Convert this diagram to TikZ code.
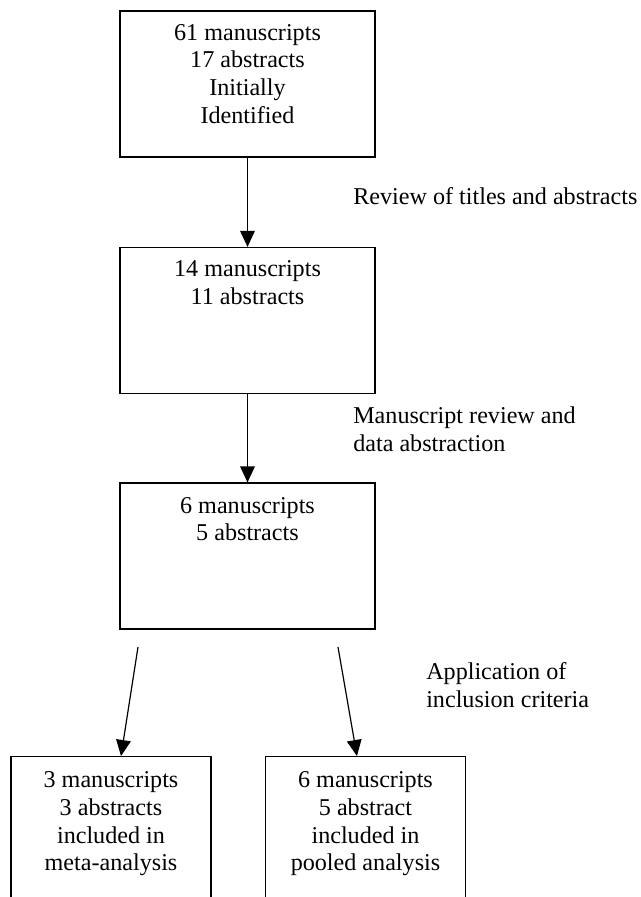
\documentclass[tikz,border=0pt]{standalone}
\usepackage{fontspec}
\setmainfont{Liberation Serif}
\usepackage{tikz}
\usetikzlibrary{arrows.meta,positioning}
\tikzset{
  stage/.style={draw, line width=0.9pt, inner sep=0pt,
                minimum width=191.25pt, minimum height=109.5pt},
  outcome/.style={draw, line width=0.9pt, inner sep=0pt, anchor=north,
                  minimum width=150pt, minimum height=120pt},
  count/.style={align=center, inner sep=0pt},
  note/.style={align=left, inner sep=0pt, anchor=north west},
  flow/.style={-{Triangle[length=12pt,width=11pt]}, line width=0.9pt},
}

\begin{document}
\begin{tikzpicture}[x=0.75pt, y=-0.75pt, font=\fontsize{18.1}{20.8}\selectfont]
    \useasboundingbox (0,0) rectangle (640,897);
    \clip (0,0) rectangle (640,897);

    % --- screening stages ------------------------------------------------
    \node[stage] (found)    at (247.5, 84.0) {};
    \node[stage] (screened) at (247.5,320.5) {};
    \node[stage] (reviewed) at (247.5,556.0) {};
    \node[outcome] (meta)   at (111.0,756.0) {};   % open at the bottom
    \node[outcome] (pooled) at (365.5,756.0) {};

    \node[count, below=10.2pt of found.north]    (foundtxt)    {61 manuscripts\\17 abstracts\\Initially\\Identified};
    \node[count, below=10.2pt of screened.north] (screenedtxt) {14 manuscripts\\11 abstracts};
    \node[count, below=10.8pt of reviewed.north] (reviewedtxt) {6 manuscripts\\5 abstracts};
    \node[count, below=11.5pt of meta.north]     (metatxt)     {3 manuscripts\\3 abstracts\\included in\\meta-analysis};
    \node[count, below=11.5pt of pooled.north]   (pooledtxt)   {6 manuscripts\\5 abstract\\included in\\pooled analysis};

    % --- what happens between stages ---------------------------------------
    \node[note] (titles)    at (353,187.5) {Review of titles and abstracts};
    \node[note] (abstraction) at (353,406.5) {Manuscript review and\\data abstraction};
    \node[note] (criteria)  at (426,662.5) {Application of\\inclusion criteria};

    % --- arrows -----------------------------------------------------------
    \coordinate (splitL) at (138,647);
    \coordinate (splitR) at (338,647);
    \draw[flow] (found) -- (screened);
    \draw[flow] (screened) -- (reviewed);
    \draw[flow] (splitL) -- ([xshift=7.5pt]meta.north);
    \draw[flow] (splitR) -- ([xshift=-6.4pt]pooled.north);
  \end{tikzpicture}
\end{document}
